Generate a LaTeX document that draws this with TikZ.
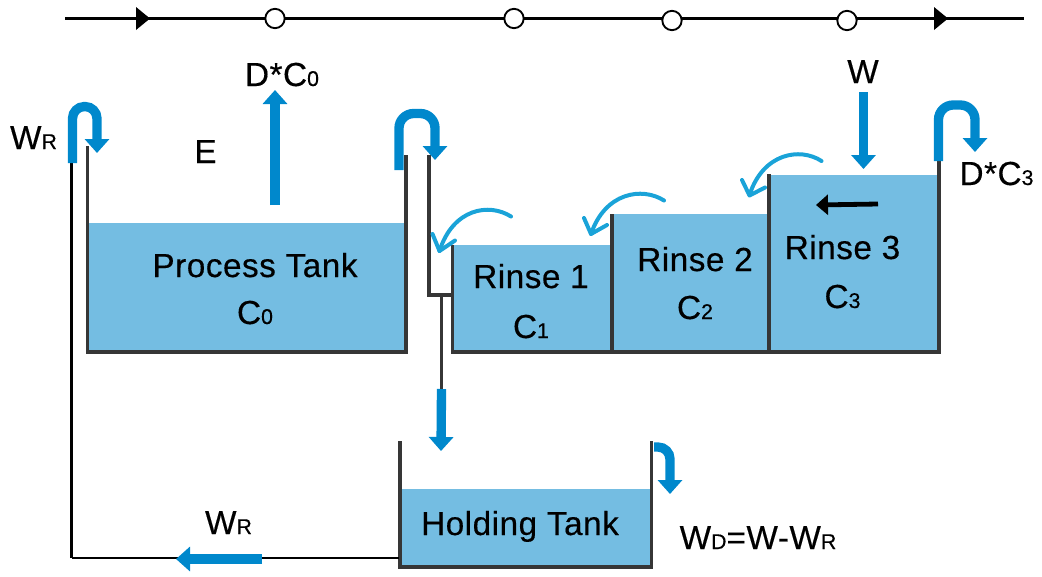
\documentclass[tikz,border=0pt]{standalone}
\usepackage{fontspec}
\setmainfont[LetterSpace=1.5,FakeBold=0.35]{Liberation Sans}
\usetikzlibrary{arrows.meta}
\definecolor{liquid}{HTML}{74BDE2}
\definecolor{flow}{HTML}{0088CC}
\definecolor{swoop}{HTML}{1AA3D8}
\definecolor{wall}{HTML}{363636}
\newcommand{\bigtxt}{\fontsize{25pt}{28pt}\selectfont}
\newcommand{\smalltxt}[1]{{\fontsize{16pt}{18pt}\selectfont #1}}
\tikzset{
  x=0.75pt,y=-0.75pt,
  label text/.style={anchor=base,inner sep=0pt,font=\bigtxt,text=black},
  tank wall/.style={draw=wall,line width=2.7pt},
  rail/.style={draw=black,line width=2pt},
  liquid body/.style={fill=liquid,draw=none,inner sep=0pt,anchor=north west},
  flow arrow/.style={draw=flow,line width=7pt,-{Triangle[width=18pt,length=10.5pt]}},
  pipe arrow/.style={draw=flow,line width=7pt,rounded corners=11pt,-{Triangle[width=18pt,length=10.5pt]}},
  swoop arrow/.style={draw=swoop,line width=3pt,line cap=round,line join=round},
  station/.style={circle,draw=black,fill=white,line width=1.4pt,minimum size=14.5pt,inner sep=0pt},
}
\begin{document}
\begin{tikzpicture}
\useasboundingbox (0,0) rectangle (1042,576);
% top rail
\coordinate (railL) at (65,18.5);
\coordinate (railR) at (1024,18.5);
\draw[rail] (railL) -- (railR);
\fill[black] (136,7) -- (150,18.5) -- (136,30) -- cycle;
\fill[black] (934,7) -- (948,18.5) -- (934,30) -- cycle;
\node[station] (s1) at (275,18.5) {};
\node[station] (s2) at (514,18.5) {};
\node[station] (s3) at (672,20.5) {};
\node[station] (s4) at (847,20.5) {};
% liquids
\node[liquid body,minimum width=318*0.75pt,minimum height=128*0.75pt] (process) at (88,223) {};
\node[liquid body,minimum width=160*0.75pt,minimum height=106*0.75pt] (rinseA) at (453,245) {};
\node[liquid body,minimum width=157*0.75pt,minimum height=137*0.75pt] (rinseB) at (612,214) {};
\node[liquid body,minimum width=170*0.75pt,minimum height=176*0.75pt] (rinseC) at (769,175) {};
\node[liquid body,minimum width=252*0.75pt,minimum height=77*0.75pt] (holding) at (400,489) {};
% walls
\draw[tank wall] (87.5,146) -- (87.5,352) -- (406,352) -- (406,155);
\draw[tank wall] (429,155) -- (429,295) -- (452.5,295);
\coordinate (drainTop) at (441.5,295);
\coordinate (drainEnd) at (441.5,389);
\draw[tank wall] (drainTop) -- (drainEnd);
\draw[tank wall] (452.5,245) -- (452.5,352) -- (939,352) -- (939,160);
\draw[tank wall] (612,214) -- (612,352);
\draw[tank wall] (769,174) -- (769,352);
\draw[tank wall] (400,441) -- (400,567) -- (651.5,567) -- (651.5,441);
% return line
\coordinate (retA) at (71.5,162);
\coordinate (retB) at (71.5,558);
\coordinate (retC) at (399,558);
\draw[draw=black,line width=2.7pt] (retA) -- (retB);
\draw[draw=black,line width=1.9pt] (retB) -- (retC);
% pipes
\coordinate (p1a) at (72.5,163);
\coordinate (p1b) at (97,153);
\draw[pipe arrow,rounded corners=9pt] (p1a) -- (72.5,106.5) -- (97,106.5) -- (p1b);
\coordinate (p2a) at (399,170);
\coordinate (p2b) at (435,160);
\draw[pipe arrow] (p2a) -- (399,113.5) -- (435,113.5) -- (p2b);
\coordinate (p3a) at (938.5,161);
\coordinate (p3b) at (975,152);
\draw[pipe arrow] (p3a) -- (938.5,105) -- (975,105) -- (p3b);
\coordinate (p4a) at (654,447);
\coordinate (p4b) at (670,494);
\draw[pipe arrow,rounded corners=9pt] (p4a) -- (670,447) -- (p4b);
% straight flows
\coordinate (upA) at (275,205);
\coordinate (upB) at (275,90);
\draw[flow arrow] (upA) -- (upB);
\coordinate (wA) at (863.5,92);
\coordinate (wB) at (863.5,169);
\draw[flow arrow] (wA) -- (wB);
\coordinate (dnB) at (441,451);
\draw[flow arrow] (drainEnd) -- (dnB);
\coordinate (hA) at (262,559);
\coordinate (hB) at (176,559);
\draw[flow arrow] (hA) -- (hB);
% counterflow arrow
\coordinate (cA) at (878,204);
\coordinate (cB) at (816,205);
\draw[draw=black,line width=3.6pt,-{Triangle[width=15pt,length=9pt]}] (cA) -- (cB);
% swoops
\draw[swoop arrow] (821.5,161) .. controls (800,147) and (763,153) .. (749.5,195);
\draw[swoop arrow] (742,180) -- (749.5,195.5) -- (765,187.5);
\draw[swoop arrow] (664,200.5) .. controls (642,186.5) and (605,192.5) .. (591,234);
\draw[swoop arrow] (584,218) -- (591,234) -- (607,225);
\draw[swoop arrow] (511,216.5) .. controls (489,202.5) and (453,208.5) .. (439.5,251);
\draw[swoop arrow] (432.5,234) -- (439.5,251) -- (455,240.5);
% text
\node[label text] (tProcess) at (255,277) {Process Tank};
\node[label text] (tC0) at (255,324) {C\smalltxt{0}};
\node[label text] (tDC0) at (282,86) {D*C\smalltxt{0}};
\node[label text] (tE) at (205.5,163) {E};
\node[label text] (tWR1) at (33.5,149) {W\smalltxt{R}};
\node[label text] (tR1) at (531,288) {Rinse 1};
\node[label text] (tC1) at (531,338) {C\smalltxt{1}};
\node[label text] (tR2) at (695,271) {Rinse 2};
\node[label text] (tC2) at (695,319) {C\smalltxt{2}};
\node[label text] (tR3) at (842.5,259) {Rinse 3};
\node[label text] (tC3) at (842.5,308) {C\smalltxt{3}};
\node[label text] (tW) at (863,83) {W};
\node[label text] (tDC3) at (996.5,185) {D*C\smalltxt{3}};
\node[label text] (tHold) at (520,535) {Holding Tank};
\node[label text] (tWD) at (758,549) {W\smalltxt{D}=W-W\smalltxt{R}};
\node[label text] (tWR2) at (228.5,534) {W\smalltxt{R}};
\end{tikzpicture}
\end{document}
